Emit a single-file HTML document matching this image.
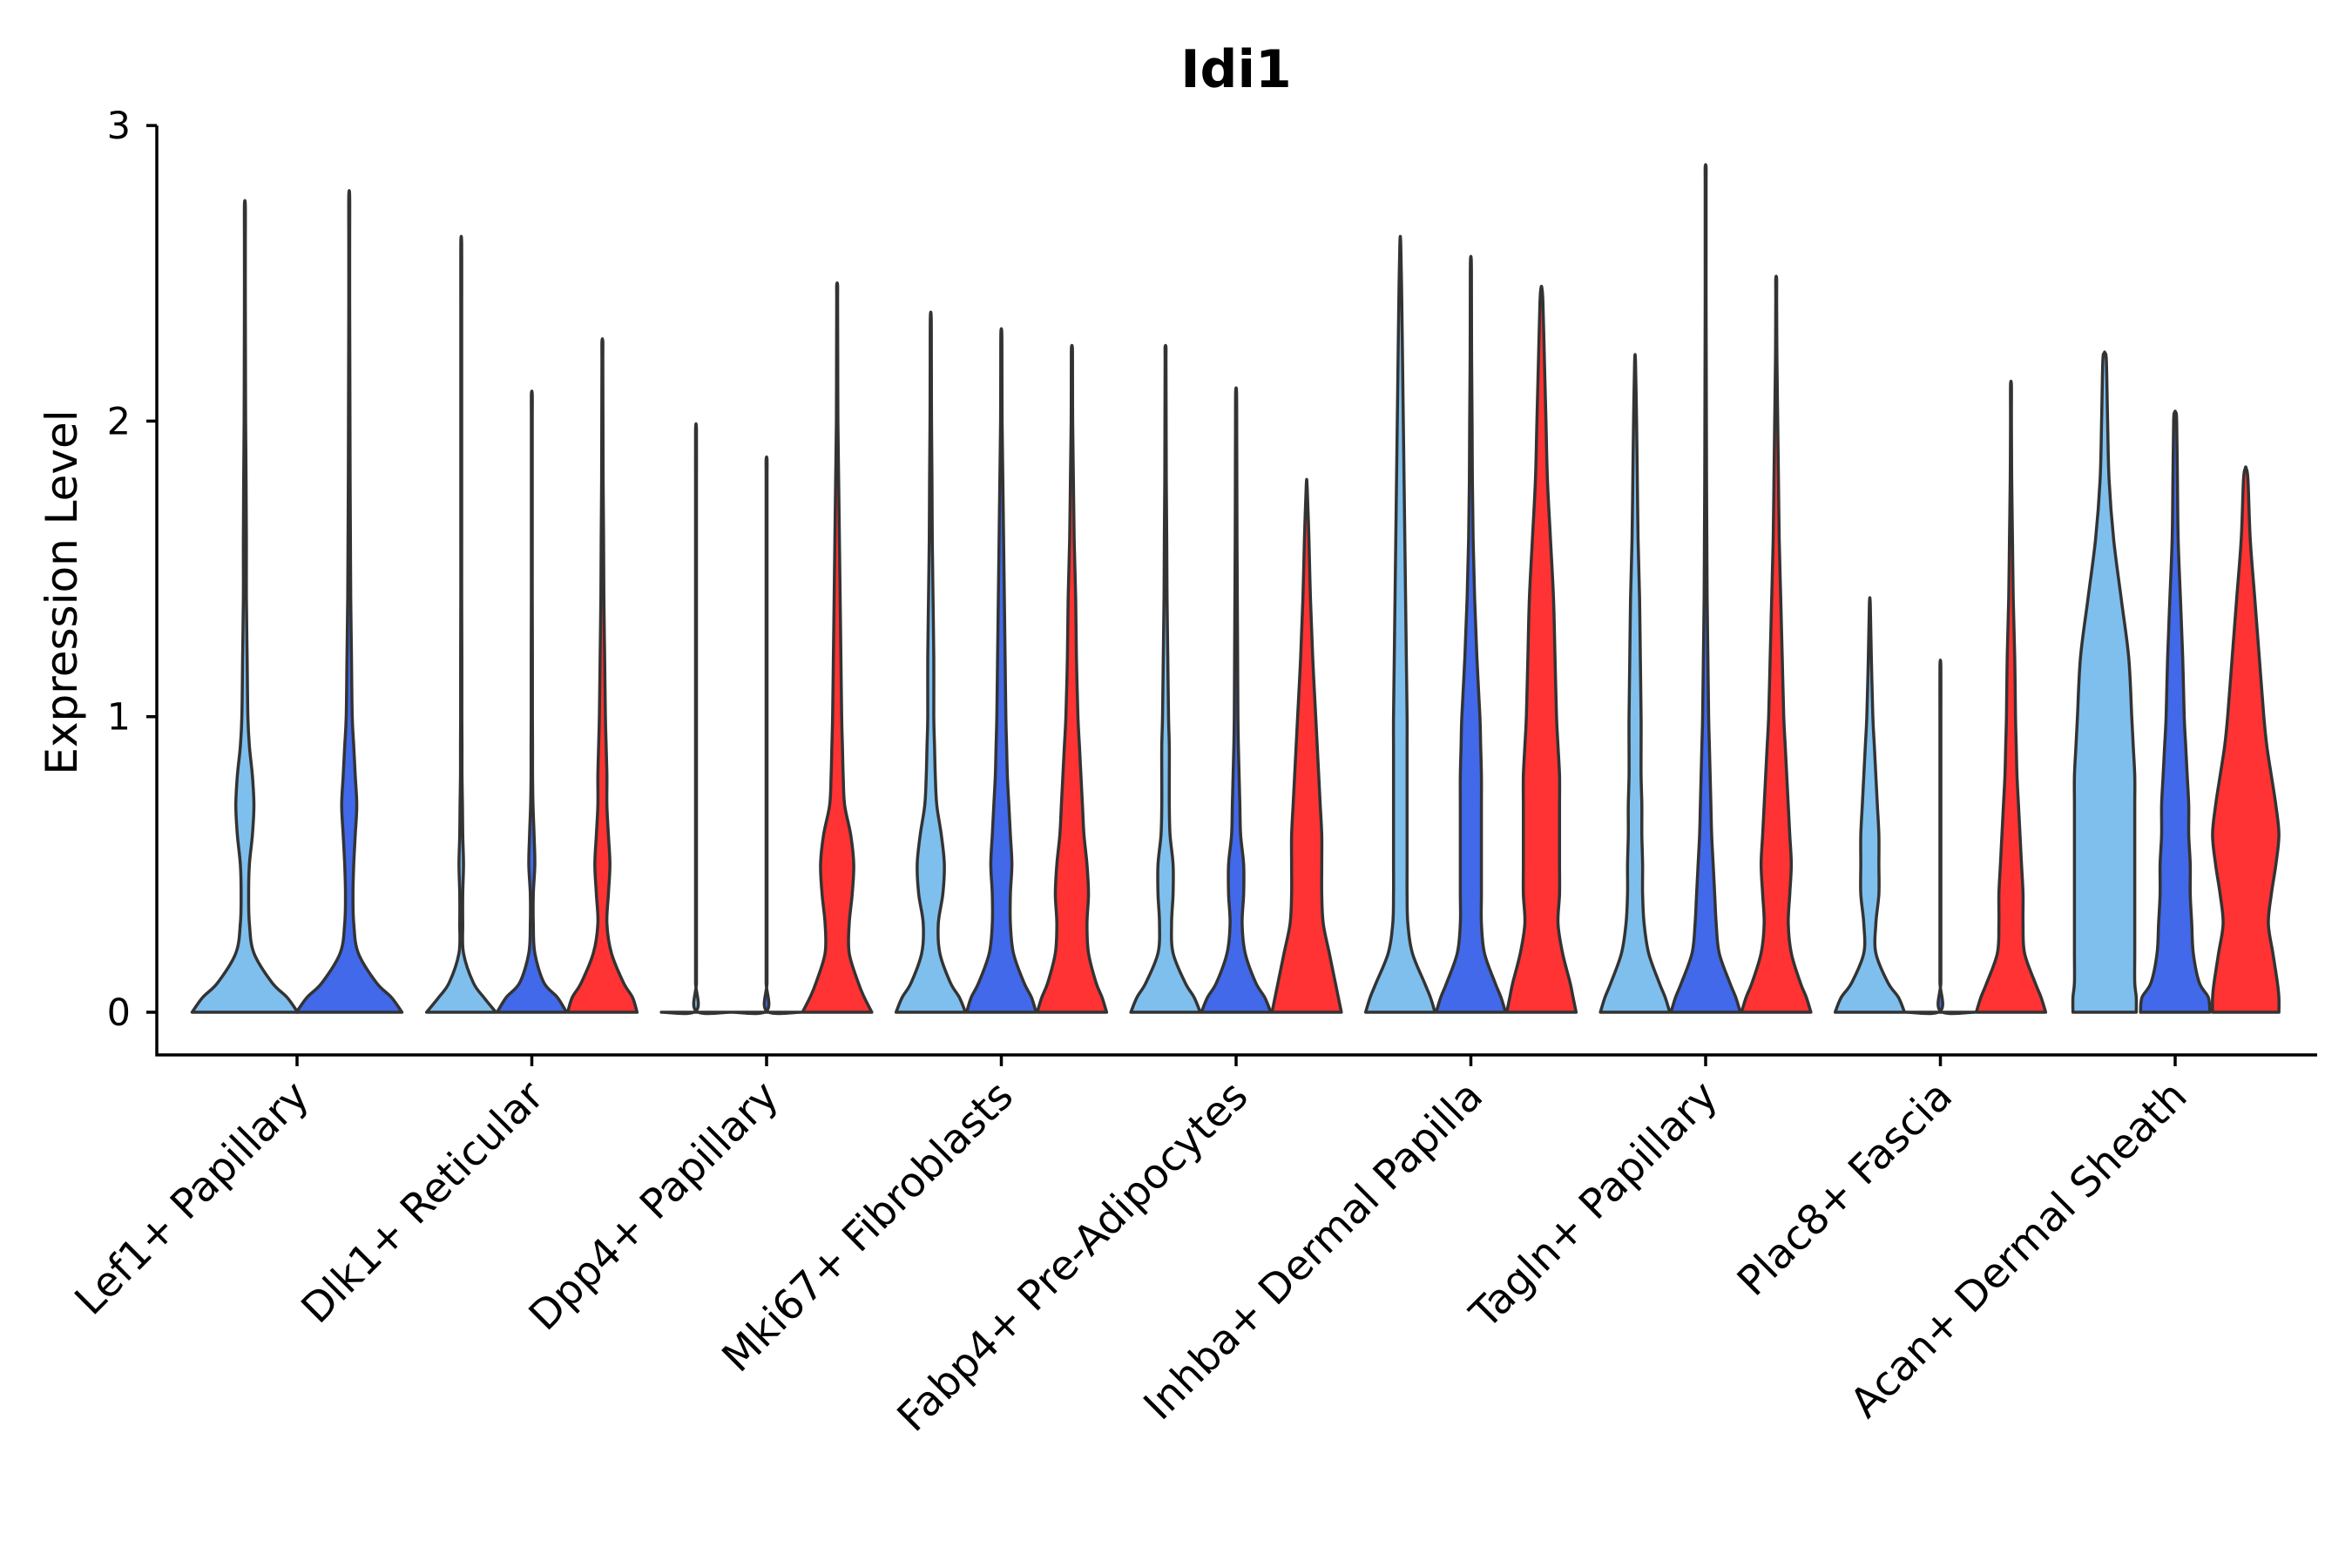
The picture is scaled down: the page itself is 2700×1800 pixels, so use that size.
<!DOCTYPE html>
<html><head><meta charset="utf-8"><style>
html,body{margin:0;padding:0;background:#fff}
svg{display:block}
text{font-family:"DejaVu Sans","Liberation Sans",sans-serif;fill:#000}
</style></head><body>
<svg id="chart" width="2700" height="1800" viewBox="0 0 2700 1800" xmlns="http://www.w3.org/2000/svg">
<text x="1419" y="100" font-size="60" font-weight="bold" text-anchor="middle">Idi1</text>
<text transform="translate(88,680) rotate(-90)" font-size="50" text-anchor="middle">Expression Level</text>
<g id="axes"></g>
<g id="violins"></g>
</svg>
<script>
const categories = ["Lef1+ Papillary","Dlk1+ Reticular","Dpp4+ Papillary","Mki67+ Fibroblasts","Fabp4+ Pre-Adipocytes","Inhba+ Dermal Papilla","Tagln+ Papillary","Plac8+ Fascia","Acan+ Dermal Sheath"];
const yTicks = [0,1,2,3];
const gridY = [0,0.05,0.1,0.2,0.3,0.4,0.5,0.6,0.7,0.8,0.9,1.0,1.2,1.4,1.6,1.8,2.0,2.2,2.4,2.6,2.8];
const groupColors = ["#7fbfed","#4169e9","#ff3333"];
const violinCat = [0,0,1,1,1,2,2,2,3,3,3,4,4,4,5,5,5,6,6,6,7,7,7,8,8,8];
const violinGrp = [0,1,0,1,2,0,1,2,0,1,2,0,1,2,0,1,2,0,1,2,0,1,2,0,1,2];
const violinMax = [2.73,2.76,2.6,2.09,2.27,1.97,1.87,2.46,2.35,2.3,2.25,2.25,2.1,1.78,2.6,2.54,2.45,2.2,2.86,2.48,1.38,1.17,2.12,2.23,2.03,1.84];
const violinDens = [
[35,28,18,6,3,2.5,3,5,6,5,3,2,1.5,1,1,.8,.5,.4,.3,.3,.3],
[35,28,18,6,3,2.5,3,4,5,4,3,2,1.5,1,.8,.6,.5,.4,.3,.3,.3],
[23,15,8,1.5,1,1,1.5,1,.8,.5,.5,.4,.4,.3,.3,.3,.3,.3,.3,.3,.3],
[23,17,8,2,1,1,2,1.5,.8,.5,.5,.4,.4,.3,.3,.3,.3,.3,.3,.3,.3],
[23,20,14,6,3,4,5,4,3,3,2.5,2,1.5,1,.8,.5,.4,.3,.3,.3,.3],
[23,.3,.3,.3,.3,.3,.3,.3,.3,.3,.3,.3,.3,.3,.3,.3,.3,.3,.3,.3,.3],
[23,.3,.3,.3,.3,.3,.3,.3,.3,.3,.3,.3,.3,.3,.3,.3,.3,.3,.3,.3,.3],
[23,18,14,8,8,10,11,9,5,4,3.5,3,2.5,2,1.5,1,.5,.4,.3,.3,.3],
[23,19,13,6,5,8,9,7,4,3,2.5,2,2,1.5,1,.8,.5,.4,.3,.3,.3],
[23,20,15,8,6,6,7,6,5,4,3.5,3,2.5,2,1.5,1,.5,.4,.3,.3,.3],
[23,20,16,11,10,11,10,8,7,6,5,4,3,2.5,1.5,1,.5,.4,.3,.3,.3],
[23,19,13,5,4,5,5,3,2.5,2.5,2.5,2,1.5,1,.8,.5,.4,.3,.3,.3,.3],
[23,19,13,6,4,5,5,3,2.5,2,1.5,1.2,1,.8,.6,.5,.4,.3,.3,.3,.3],
[23,21,19,15,11,10,10,10,9,8,7,6,4,2.5,1.5,.5,.3,.3,.3,.3,.3],
[23,20,16,8,5,4.5,4.5,4.5,4.5,4.5,4.5,4.5,4,3.5,3,2.5,2,1.5,1,.5,.3],
[23,20,16,9,7,7,7,7,7,7,6.5,6,4,2.5,1.5,1,.8,.5,.4,.3,.3],
[23,21,19,14,11,12,12,12,12,12,11,10,9,8,6,4,3,2,1,.3,.3],
[23,20,16,9,6,5,5,4.5,4.5,4,4,4,3.5,3,2,1.5,1,.5,.3,.3,.3],
[23,20,16,9,7,6,5,4,3.5,3,2.5,2,1.5,1,.8,.6,.5,.4,.3,.3,.3],
[23,20,16,10,8,9,10,9,8,7,6,5,4,3,2,1.5,1,.5,.3,.3,.3],
[23,19,12,4,4,6,6,6,5,4,3,2,1,.5,.3,.3,.3,.3,.3,.3,.3],
[23,.3,.3,.3,.3,.3,.3,.3,.3,.3,.3,.3,.3,.3,.3,.3,.3,.3,.3,.3,.3],
[23,20,16,9,8,8,7,6,5,4,3.5,3,2.5,1.5,1,.5,.3,.3,.3,.3,.3],
[21,21,20,20,20,20,20,20,20,20,19,18,16,11,6,3,2,1.2,.5,.3,.3],
[23,22,16,12,11,10,10,9,9,8,7,6,5,3.5,2,1.5,1,.5,.3,.3,.3],
[22,22,21,18,15,17,20,22,20,17,14,12,9,6,3,1.5,.5,.3,.3,.3,.3]
];
const NS="http://www.w3.org/2000/svg";
const axes=document.getElementById('axes');
const vg=document.getElementById('violins');
const X0=180, XEND=2660, Y0=1162, YPU=339.3, XAXY=1211;
const catX=i=>341+i*269.5;
const yS=v=>Y0-v*YPU;
const wS=w=>w*1.731;
function mk(tag,attrs,parent){const e=document.createElementNS(NS,tag);for(const k in attrs)e.setAttribute(k,attrs[k]);parent.appendChild(e);return e;}
let l=mk('line',{x1:X0,y1:yS(3),x2:X0,y2:XAXY+1.5,stroke:'#000','stroke-width':3.5},axes);


l=mk('line',{x1:X0-1.5,y1:XAXY,x2:XEND,y2:XAXY,stroke:'#000','stroke-width':3.5},axes);


yTicks.forEach(t=>{
  const tk=mk('line',{x1:X0-12,y1:yS(t),x2:X0,y2:yS(t),stroke:'#000','stroke-width':3.5},axes);
  
  
  const tx=mk('text',{x:X0-30,y:yS(t)+15,'font-size':43,'text-anchor':'end'},axes);
  tx.textContent=String(t);
  
  
});
categories.forEach((c,i)=>{
  const x=catX(i);
  const tk=mk('line',{x1:x,y1:XAXY,x2:x,y2:XAXY+13,stroke:'#000','stroke-width':3.5},axes);
  
  
  const tx=mk('text',{transform:`translate(${x+16},${XAXY+50}) rotate(-45)`,'font-size':47,'text-anchor':'end'},axes);
  tx.textContent=c;
  
  
});
violinMax.forEach((mx,k)=>{
  const ci=violinCat[k], gi=violinGrp[k];
  const n = violinCat.filter(c=>c===ci).length;
  const off = n===2 ? (gi-0.5)*2*34.6 : (gi-1)*46.8;
  const cx = catX(ci)+wS(off);
  const dens=violinDens[k];
  const flat = dens[1] < 1;
  const pts=[];
  for(let j=0;j<gridY.length;j++){ if(gridY[j]>=mx) break; pts.push([flat&&j===1?0.004:gridY[j],wS(flat&&j===1?0.1:dens[j])]); }
  pts.push([mx,wS(0.3)]);
  const right=pts.map(p=>[cx+p[1],yS(p[0])]);
  const left=pts.slice().reverse().map(p=>[cx-p[1],yS(p[0])]);
  const all=right.concat(left);
  let d=`M${all[0][0]},${all[0][1]}`;
  for(let i=0;i<all.length-1;i++){
    const p0=all[Math.max(0,i-1)],p1=all[i],p2=all[i+1],p3=all[Math.min(all.length-1,i+2)];
    const c1=[p1[0]+(p2[0]-p0[0])/6,p1[1]+(p2[1]-p0[1])/6];
    const c2=[p2[0]-(p3[0]-p1[0])/6,p2[1]-(p3[1]-p1[1])/6];
    d+=` C${c1[0]},${c1[1]} ${c2[0]},${c2[1]} ${p2[0]},${p2[1]}`;
  }
  d+='Z';
  const p=mk('path',{d:d,fill:groupColors[gi],stroke:'#333','stroke-width':3.5,'stroke-linejoin':'round'},vg);
  
  
});
</script>
</body></html>
